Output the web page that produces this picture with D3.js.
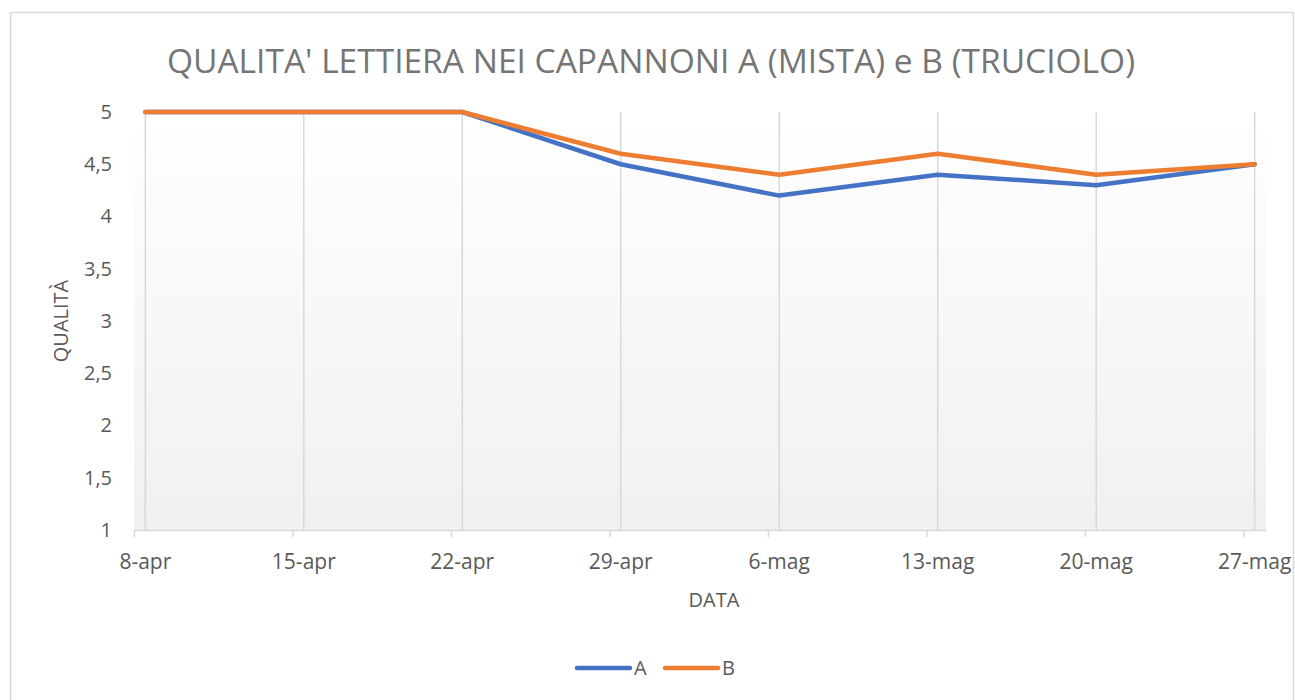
<!DOCTYPE html>
<html>
<head>
<meta charset="utf-8">
<script src="https://cdn.jsdelivr.net/npm/d3@7"></script>
<style>
  body { margin: 0; background: #fff; }
  text { font-family: "Open Sans", "Noto Sans", sans-serif; }
</style>
</head>
<body>
<div id="chart-container"></div>
<script>
// chart data
const dates = ["2024-04-08", "2024-04-15", "2024-04-22", "2024-04-29", "2024-05-06", "2024-05-13", "2024-05-20", "2024-05-27"];
const dateLabels = ["8-apr", "15-apr", "22-apr", "29-apr", "6-mag", "13-mag", "20-mag", "27-mag"];
const seriesA = [5, 5, 5, 4.5, 4.2, 4.4, 4.3, 4.5];
const seriesB = [5, 5, 5, 4.6, 4.4, 4.6, 4.4, 4.5];
const yTicks = [1, 1.5, 2, 2.5, 3, 3.5, 4, 4.5, 5];

const width = 1295;
const height = 700;
const parse = d3.timeParse("%Y-%m-%d");
const parsed = dates.map(parse);
const halfDay = 12 * 3600 * 1000;

const svg = d3.select("#chart-container")
  .append("svg")
  .attr("width", width)
  .attr("height", height);

// outer chart border
svg.append("rect")
  .attr("x", 10.5).attr("y", 12.5)
  .attr("width", 1283).attr("height", 700)
  .attr("fill", "#fff")
  .attr("stroke", "#d9d9d9")
  .attr("stroke-width", 1.5);

// date axis, points sit in the middle of their day
const x = d3.scaleTime()
  .domain([new Date(+parsed[0] - halfDay), new Date(+parsed[parsed.length - 1] + halfDay)])
  .range([134, 1266]);

const y = d3.scaleLinear()
  .domain([1, 5])
  .range([530, 112]);

// plot area gradient
const defs = svg.append("defs");
const grad = defs.append("linearGradient")
  .attr("id", "plotGrad")
  .attr("x1", 0).attr("y1", 0).attr("x2", 0).attr("y2", 1);
grad.append("stop").attr("offset", "0%").attr("stop-color", "#ffffff");
grad.append("stop").attr("offset", "100%").attr("stop-color", "#f0f0f0");

svg.append("rect")
  .attr("x", x.range()[0])
  .attr("y", y(5))
  .attr("width", x.range()[1] - x.range()[0])
  .attr("height", y(1) - y(5))
  .attr("fill", "url(#plotGrad)");

// vertical gridlines at each date
svg.append("g")
  .selectAll("line")
  .data(parsed)
  .enter()
  .append("line")
  .attr("x1", d => x(d)).attr("x2", d => x(d))
  .attr("y1", y(5)).attr("y2", y(1))
  .attr("stroke", "#d9d9d9")
  .attr("stroke-width", 1.5);

// x axis line and tick marks (at day boundaries)
const xAxis = d3.axisBottom(x)
  .tickValues(parsed.map(d => new Date(+d - halfDay)))
  .tickFormat("")
  .tickSize(7)
  .tickSizeOuter(0);

const xg = svg.append("g")
  .attr("transform", `translate(0,${y(1)})`)
  .call(xAxis);
xg.select(".domain").attr("stroke", "#d9d9d9").attr("stroke-width", 1.5);
xg.selectAll(".tick line").attr("stroke", "#d9d9d9").attr("stroke-width", 1.5);

// x tick labels centred on the data points
svg.append("g")
  .selectAll("text")
  .data(parsed)
  .enter()
  .append("text")
  .attr("x", d => x(d))
  .attr("y", 569)
  .attr("text-anchor", "middle")
  .attr("fill", "#595959")
  .style("font-size", "21px")
  .text((d, i) => dateLabels[i]);

// y axis labels
const yAxis = d3.axisLeft(y)
  .tickValues(yTicks)
  .tickFormat(d => String(d).replace(".", ","))
  .tickSize(0)
  .tickPadding(0);

const yg = svg.append("g")
  .attr("transform", "translate(112,0)")
  .call(yAxis);
yg.select(".domain").remove();
yg.selectAll("text")
  .attr("fill", "#595959")
  .style("font-size", "20px")
  .style("font-family", "'Open Sans', sans-serif");

// lines
const line = d3.line()
  .x((d, i) => x(parsed[i]))
  .y(d => y(d));

svg.append("path")
  .datum(seriesA)
  .attr("fill", "none")
  .attr("stroke", "#4472C4")
  .attr("stroke-width", 4.5)
  .attr("stroke-linejoin", "round")
  .attr("stroke-linecap", "round")
  .attr("d", line);

svg.append("path")
  .datum(seriesB)
  .attr("fill", "none")
  .attr("stroke", "#ED7D31")
  .attr("stroke-width", 4.5)
  .attr("stroke-linejoin", "round")
  .attr("stroke-linecap", "round")
  .attr("d", line);

// title
svg.append("text")
  .attr("x", 651)
  .attr("y", 73)
  .attr("text-anchor", "middle")
  .attr("fill", "#757575")
  .style("font-size", "33.5px")
  .text("QUALITA' LETTIERA NEI CAPANNONI A (MISTA) e B (TRUCIOLO)");

// axis titles
svg.append("text")
  .attr("x", 714)
  .attr("y", 607)
  .attr("text-anchor", "middle")
  .attr("fill", "#595959")
  .style("font-size", "20px")
  .text("DATA");

svg.append("text")
  .attr("transform", "translate(68,321) rotate(-90)")
  .attr("text-anchor", "middle")
  .attr("fill", "#595959")
  .style("font-size", "20px")
  .text("QUALITÀ");

// legend
const legend = [{ name: "A", color: "#4472C4", x: 577 }, { name: "B", color: "#ED7D31", x: 665 }];
const lg = svg.append("g");
legend.forEach(l => {
  lg.append("line")
    .attr("x1", l.x).attr("x2", l.x + 53)
    .attr("y1", 668).attr("y2", 668)
    .attr("stroke", l.color)
    .attr("stroke-width", 4.5)
    .attr("stroke-linecap", "round");
  lg.append("text")
    .attr("x", l.x + 57)
    .attr("y", 675)
    .attr("fill", "#595959")
    .style("font-size", "20px")
    .text(l.name);
});
</script>
</body>
</html>
